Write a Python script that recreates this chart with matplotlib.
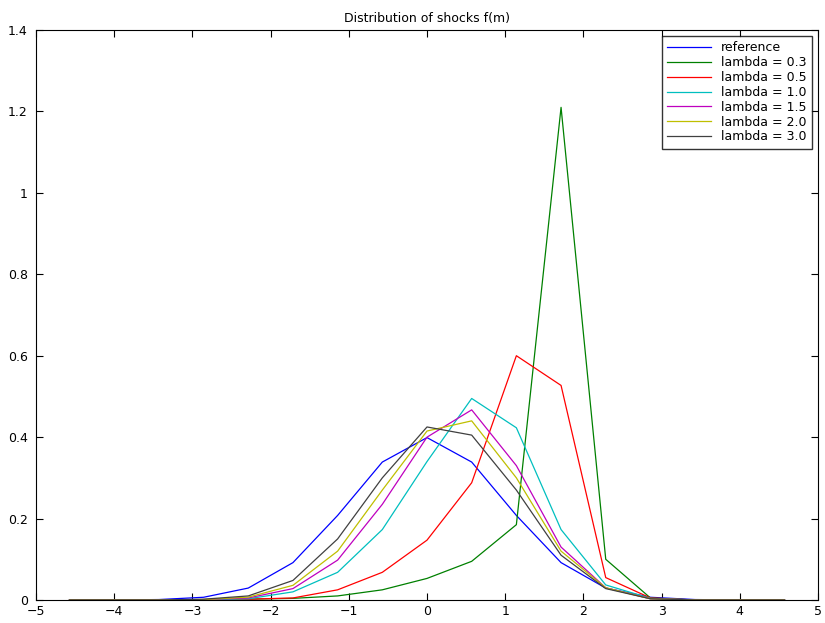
import matplotlib.pyplot as plt
import numpy as np

x = np.arange(-8, 9) * 4 / 7

f_ref = [0, 0.0001, 0.0011, 0.0067, 0.0293, 0.0918, 0.2077, 0.3388, 0.3989,
         0.3388, 0.2077, 0.0918, 0.0293, 0.0067, 0.0011, 0.0001, 0]
f_03 = [0, 0, 0, 0.0005, 0.002, 0.004, 0.01, 0.025, 0.053, 0.095, 0.185, 1.21, 0.10, 0.005, 0, 0, 0]
f_05 = [0, 0, 0, 0.001, 0.002, 0.005, 0.025, 0.068, 0.147, 0.288, 0.60, 0.527, 0.055, 0.005, 0, 0, 0]
f_10 = [0, 0, 0, 0.0005, 0.003, 0.02, 0.068, 0.173, 0.34, 0.495, 0.423, 0.173, 0.037, 0.004, 0, 0, 0]
f_15 = [0, 0, 0, 0.001, 0.005, 0.028, 0.098, 0.235, 0.40, 0.467, 0.33, 0.13, 0.03, 0.003, 0, 0, 0]
f_20 = [0, 0, 0, 0.001, 0.007, 0.036, 0.12, 0.27, 0.415, 0.44, 0.30, 0.12, 0.03, 0.003, 0, 0, 0]
f_30 = [0, 0, 0, 0.002, 0.01, 0.048, 0.15, 0.30, 0.425, 0.405, 0.27, 0.11, 0.028, 0.003, 0, 0, 0]

series = [
    ('reference', f_ref, '#0000ff'),
    ('lambda = 0.3', f_03, '#008000'),
    ('lambda = 0.5', f_05, '#ff0000'),
    ('lambda = 1.0', f_10, '#00bfbf'),
    ('lambda = 1.5', f_15, '#bf00bf'),
    ('lambda = 2.0', f_20, '#bfbf00'),
    ('lambda = 3.0', f_30, '#404040'),
]

fig = plt.figure(figsize=(8.25, 6.23), dpi=100)
ax = fig.add_axes([36 / 825, 1 - 600 / 623, 782 / 825, 570 / 623])
for label, y, c in series:
    ax.plot(x, y, color=c, linewidth=0.9, label=label)

ax.set_xlim(-5, 5)
ax.set_ylim(0, 1.4)
ax.set_xticks(range(-5, 6))
ax.set_xticklabels(['\u22125', '\u22124', '\u22123', '\u22122', '\u22121', '0', '1', '2', '3', '4', '5'])
ax.set_yticks(np.arange(0, 1.41, 0.2))
ax.set_yticklabels(['0', '0.2', '0.4', '0.6', '0.8', '1', '1.2', '1.4'])
ax.tick_params(direction='in', top=True, right=True, labelsize=9, length=5)
ax.tick_params(axis='y', pad=6)
ax.set_title('Distribution of shocks f(m)', fontsize=9)
leg = ax.legend(loc='upper right', fontsize=9, frameon=True, fancybox=False,
                edgecolor='black', handlelength=3.5, borderaxespad=0.5,
                labelspacing=0.15)
leg.get_frame().set_linewidth(1.0)

fig.savefig('out.png', dpi=100)
